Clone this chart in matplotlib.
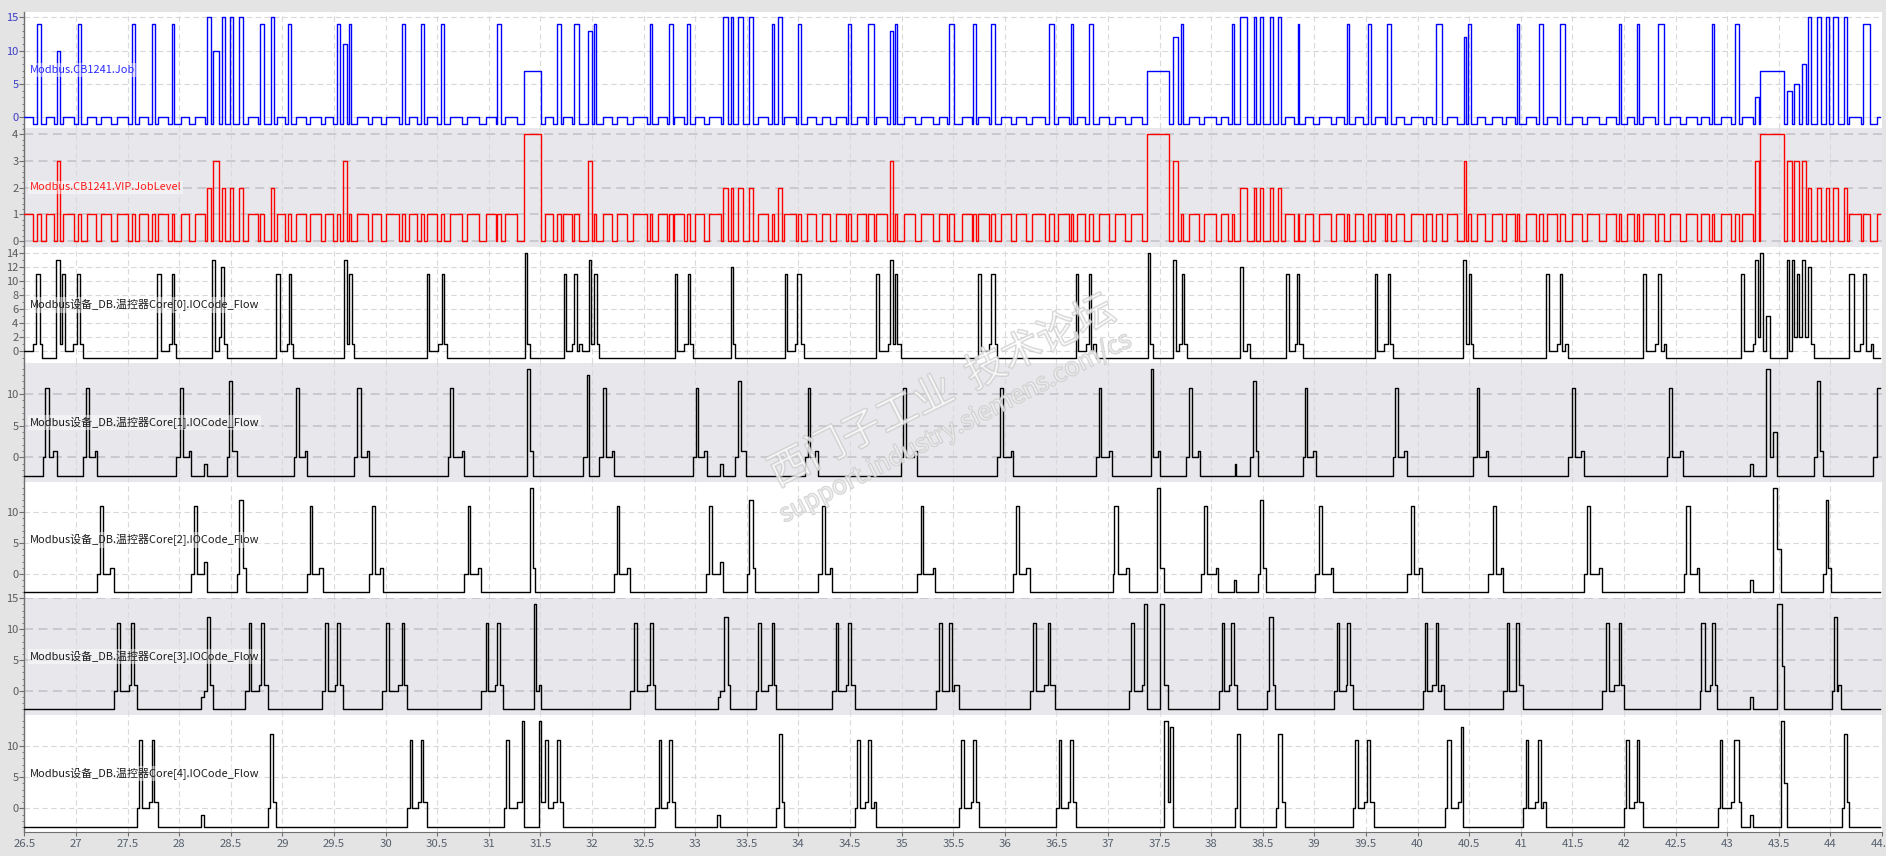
import matplotlib
matplotlib.use('Agg')
import matplotlib.pyplot as plt
from matplotlib.ticker import MultipleLocator, FuncFormatter
from matplotlib import patheffects as pe

plt.rcParams['font.family'] = ['Noto Sans CJK SC', 'DejaVu Sans']

# ---------------- data ----------------
X_START, X_END = 26.5, 44.48

job_times = [
    26.5, 26.587, 26.619, 26.658, 26.706, 26.787, 26.813, 26.848, 26.874, 26.977,
    27.016, 27.048, 27.103, 27.191, 27.239, 27.336, 27.401, 27.507, 27.539, 27.569,
    27.614, 27.701, 27.733, 27.762, 27.795, 27.891, 27.927, 27.953, 28.014, 28.098,
    28.150, 28.247, 28.273, 28.305, 28.324, 28.386, 28.411, 28.441, 28.489, 28.518,
    28.583, 28.621, 28.670, 28.767, 28.786, 28.825, 28.886, 28.915, 28.951, 29.025,
    29.058, 29.080, 29.129, 29.226, 29.267, 29.371, 29.413, 29.494, 29.526, 29.555,
    29.591, 29.623, 29.645, 29.668, 29.726, 29.826, 29.868, 29.955, 30.004, 30.130,
    30.156, 30.185, 30.230, 30.307, 30.340, 30.369, 30.398, 30.501, 30.540, 30.569,
    30.627, 30.744, 30.792, 30.902, 30.970, 31.066, 31.079, 31.115, 31.160, 31.276,
    31.344, 31.509, 31.548, 31.625, 31.658, 31.696, 31.722, 31.803, 31.829, 31.877,
    31.964, 31.997, 32.023, 32.042, 32.110, 32.191, 32.239, 32.339, 32.401, 32.530,
    32.565, 32.585, 32.643, 32.730, 32.749, 32.782, 32.795, 32.895, 32.924, 32.953,
    33.001, 33.088, 33.137, 33.247, 33.273, 33.321, 33.344, 33.370, 33.418, 33.466,
    33.521, 33.563, 33.612, 33.709, 33.741, 33.764, 33.806, 33.838, 33.864, 33.977,
    33.993, 34.028, 34.087, 34.167, 34.225, 34.306, 34.361, 34.458, 34.484, 34.510,
    34.565, 34.652, 34.678, 34.733, 34.752, 34.862, 34.886, 34.913, 34.937, 34.957,
    35.020, 35.131, 35.186, 35.305, 35.364, 35.443, 35.463, 35.511, 35.582, 35.681,
    35.696, 35.724, 35.744, 35.851, 35.870, 35.906, 35.961, 36.064, 36.112, 36.207,
    36.266, 36.385, 36.424, 36.472, 36.519, 36.622, 36.638, 36.661, 36.697, 36.776,
    36.812, 36.855, 36.915, 37.009, 37.065, 37.168, 37.227, 37.326, 37.381, 37.587,
    37.634, 37.682, 37.710, 37.729, 37.785, 37.880, 37.935, 38.050, 38.097, 38.160,
    38.200, 38.224, 38.283, 38.350, 38.410, 38.433, 38.473, 38.504, 38.568, 38.595,
    38.651, 38.678, 38.714, 38.805, 38.837, 38.853, 38.908, 38.991, 39.042, 39.165,
    39.208, 39.287, 39.319, 39.339, 39.390, 39.473, 39.517, 39.545, 39.588, 39.687,
    39.707, 39.738, 39.794, 39.873, 39.932, 40.051, 40.079, 40.142, 40.181, 40.233,
    40.288, 40.383, 40.446, 40.466, 40.490, 40.514, 40.573, 40.656, 40.723, 40.815,
    40.857, 40.944, 40.960, 40.986, 41.047, 41.144, 41.173, 41.218, 41.251, 41.354,
    41.383, 41.428, 41.493, 41.590, 41.645, 41.761, 41.822, 41.919, 41.955, 41.974,
    42.026, 42.100, 42.129, 42.149, 42.181, 42.300, 42.333, 42.391, 42.446, 42.543,
    42.604, 42.704, 42.749, 42.827, 42.856, 42.875, 42.937, 43.040, 43.076, 43.111,
    43.140, 43.253, 43.273, 43.305, 43.318, 43.554, 43.576, 43.625, 43.651, 43.699,
    43.728, 43.760, 43.786, 43.809, 43.873, 43.906, 43.957, 43.983, 44.028, 44.077,
    44.135, 44.164, 44.180, 44.297, 44.319, 44.384, 44.448,
]

job_values = [
    0, -1, 14, -1, 0, -1, 10, -1, 0, -1,
    14, -1, 0, -1, 0, -1, 0, -1, 14, -1,
    0, -1, 14, -1, 0, -1, 14, -1, 0, -1,
    0, -1, 15, -1, 10, -1, 15, -1, 15, -1,
    15, -1, 0, -1, 14, -1, 15, -1, 0, -1,
    14, -1, 0, -1, 0, -1, 0, -1, 14, -1,
    11, -1, 14, -1, 0, -1, 0, -1, 0, -1,
    14, -1, 0, -1, 14, -1, 0, -1, 14, -1,
    0, -1, 0, -1, 0, -1, 14, -1, 0, -1,
    7, -1, 0, -1, 14, -1, 0, -1, 14, -1,
    13, -1, 14, -1, 0, -1, 0, -1, 0, -1,
    14, -1, 0, -1, 14, -1, 0, -1, 14, -1,
    0, -1, 0, -1, 15, -1, 15, -1, 15, -1,
    15, -1, 0, -1, 14, -1, 15, -1, 0, -1,
    14, -1, 0, -1, 0, -1, 0, -1, 14, -1,
    0, -1, 14, -1, 0, -1, 13, -1, 14, -1,
    0, -1, 0, -1, 0, -1, 14, -1, 0, -1,
    14, -1, 0, -1, 14, -1, 0, -1, 0, -1,
    0, -1, 14, -1, 0, -1, 14, -1, 0, -1,
    14, -1, 0, -1, 0, -1, 0, -1, 7, -1,
    12, -1, 14, -1, 0, -1, 0, -1, 0, -1,
    14, -1, 15, -1, 15, -1, 15, -1, 15, -1,
    15, -1, 0, -1, 14, -1, 0, -1, 0, -1,
    0, -1, 14, -1, 0, -1, 14, -1, 0, -1,
    14, -1, 0, -1, 0, -1, 0, -1, 14, -1,
    0, -1, 12, -1, 14, -1, 0, -1, 0, -1,
    0, -1, 14, -1, 0, -1, 14, -1, 0, -1,
    14, -1, 0, -1, 0, -1, 0, -1, 14, -1,
    0, -1, 14, -1, 0, -1, 14, -1, 0, -1,
    0, -1, 0, -1, 14, -1, 0, -1, 14, -1,
    0, -1, 3, -1, 7, -1, 4, -1, 5, -1,
    8, -1, 15, -1, 15, -1, 15, -1, 15, -1,
    15, -1, 0, -1, 14, -1, 0,
]

job_level_values = [
    1, 0, 1, 0, 1, 0, 3, 0, 1, 0,
    1, 0, 1, 0, 1, 0, 1, 0, 1, 0,
    1, 0, 1, 0, 1, 0, 1, 0, 1, 0,
    1, 0, 2, 0, 3, 0, 2, 0, 2, 0,
    2, 0, 1, 0, 1, 0, 2, 0, 1, 0,
    1, 0, 1, 0, 1, 0, 1, 0, 1, 0,
    3, 0, 1, 0, 1, 0, 1, 0, 1, 0,
    1, 0, 1, 0, 1, 0, 1, 0, 1, 0,
    1, 0, 1, 0, 1, 0, 1, 0, 1, 0,
    4, 0, 1, 0, 1, 0, 1, 0, 1, 0,
    3, 0, 1, 0, 1, 0, 1, 0, 1, 0,
    1, 0, 1, 0, 1, 0, 1, 0, 1, 0,
    1, 0, 1, 0, 2, 0, 2, 0, 2, 0,
    2, 0, 1, 0, 1, 0, 2, 0, 1, 0,
    1, 0, 1, 0, 1, 0, 1, 0, 1, 0,
    1, 0, 1, 0, 1, 0, 3, 0, 1, 0,
    1, 0, 1, 0, 1, 0, 1, 0, 1, 0,
    1, 0, 1, 0, 1, 0, 1, 0, 1, 0,
    1, 0, 1, 0, 1, 0, 1, 0, 1, 0,
    1, 0, 1, 0, 1, 0, 1, 0, 4, 0,
    3, 0, 1, 0, 1, 0, 1, 0, 1, 0,
    1, 0, 2, 0, 2, 0, 2, 0, 2, 0,
    2, 0, 1, 0, 1, 0, 1, 0, 1, 0,
    1, 0, 1, 0, 1, 0, 1, 0, 1, 0,
    1, 0, 1, 0, 1, 0, 1, 0, 1, 0,
    1, 0, 3, 0, 1, 0, 1, 0, 1, 0,
    1, 0, 1, 0, 1, 0, 1, 0, 1, 0,
    1, 0, 1, 0, 1, 0, 1, 0, 1, 0,
    1, 0, 1, 0, 1, 0, 1, 0, 1, 0,
    1, 0, 1, 0, 1, 0, 1, 0, 1, 0,
    1, 0, 3, 0, 4, 0, 3, 0, 3, 0,
    3, 0, 2, 0, 2, 0, 2, 0, 2, 0,
    2, 0, 1, 0, 1, 0, 1,
]

core0_flow = [
    (26.5, 0), (26.587, 1), (26.609, 11), (26.651, 1), (26.674, -1), (26.806, 13), (26.845, 1), (26.864, 11), (26.893, 0), (26.974, 1),
    (27.006, 11), (27.039, 1), (27.071, -1), (27.788, 11), (27.827, 0), (27.901, 1), (27.927, 11), (27.953, 1), (27.972, -1), (28.321, 13),
    (28.347, 0), (28.386, 2), (28.405, 12), (28.434, 1), (28.460, -1), (28.941, 11), (28.977, 0), (29.041, 1), (29.061, 11), (29.083, 1),
    (29.106, -1), (29.594, 13), (29.623, 1), (29.645, 11), (29.671, 1), (29.694, -1), (30.398, 11), (30.424, 0), (30.505, 1), (30.543, 11),
    (30.569, 1), (30.598, -1), (31.348, 14), (31.373, 1), (31.399, -1), (31.725, 11), (31.751, 0), (31.803, 1), (31.829, 11), (31.851, 0),
    (31.877, 1), (31.906, 0), (31.968, 13), (31.993, 1), (32.019, 11), (32.045, 1), (32.071, -1), (32.801, 11), (32.827, 0), (32.895, 1),
    (32.927, 11), (32.953, 1), (32.975, -1), (33.344, 12), (33.369, 1), (33.389, -1), (33.867, 11), (33.893, 0), (33.970, 1), (33.990, 11),
    (34.022, 1), (34.057, -1), (34.755, 11), (34.781, 0), (34.865, 1), (34.891, 13), (34.913, 1), (34.939, 11), (34.959, 1), (34.991, -1),
    (35.743, 11), (35.769, 0), (35.850, 1), (35.870, 11), (35.908, 1), (35.928, -1), (36.690, 11), (36.713, 0), (36.787, 1), (36.813, 11),
    (36.839, 0), (36.858, 1), (36.884, -1), (37.384, 14), (37.410, 1), (37.439, -1), (37.633, 13), (37.662, 0), (37.685, 1), (37.714, 11),
    (37.733, 1), (37.762, -1), (38.282, 12), (38.311, 0), (38.350, 1), (38.379, -1), (38.722, 11), (38.751, 0), (38.809, 1), (38.835, 11),
    (38.854, 1), (38.886, -1), (39.587, 11), (39.603, 0), (39.678, 1), (39.710, 11), (39.736, 1), (39.758, -1), (40.443, 13), (40.469, 1),
    (40.495, 11), (40.514, 1), (40.540, -1), (41.247, 11), (41.270, 0), (41.354, 1), (41.383, 11), (41.402, 0), (41.428, 1), (41.461, -1),
    (42.181, 11), (42.213, 0), (42.300, 1), (42.333, 11), (42.362, 0), (42.388, 1), (42.407, -1), (43.137, 11), (43.166, 0), (43.247, 1),
    (43.273, 13), (43.295, 2), (43.321, 14), (43.350, 0), (43.376, 5), (43.415, -1), (43.576, 13), (43.602, 0), (43.625, 13), (43.647, 2),
    (43.673, 11), (43.696, 2), (43.728, 13), (43.757, 2), (43.786, 12), (43.809, 1), (43.841, -1), (44.183, 11), (44.225, 0), (44.290, 1),
    (44.319, 11), (44.348, 0), (44.390, 1), (44.416, -1),
]

core1_flow = [
    (26.5, -3), (26.677, 0), (26.703, 11), (26.735, 0), (26.780, 1), (26.813, -3), (27.071, 0), (27.097, 11), (27.123, 0), (27.187, 1),
    (27.207, -3), (27.972, 0), (28.011, 11), (28.037, 0), (28.092, 1), (28.118, -3), (28.244, -1), (28.273, -3), (28.460, 0), (28.486, 12),
    (28.515, 1), (28.557, -3), (29.112, 0), (29.132, 11), (29.158, 0), (29.216, 1), (29.242, -3), (29.694, 0), (29.726, 11), (29.765, 0),
    (29.820, 1), (29.842, -3), (30.601, 0), (30.627, 11), (30.656, 0), (30.743, 1), (30.763, -3), (31.373, 14), (31.399, 1), (31.431, -3),
    (31.910, 0), (31.948, 13), (31.968, -3), (32.071, 0), (32.110, 11), (32.139, 0), (32.191, 1), (32.216, -3), (32.975, 0), (33.004, 11),
    (33.024, 0), (33.088, 1), (33.111, -3), (33.243, -1), (33.269, -3), (33.389, 0), (33.418, 12), (33.444, 1), (33.496, -3), (34.061, 0),
    (34.090, 11), (34.116, 0), (34.161, 1), (34.193, -3), (34.991, 0), (35.017, 11), (35.043, 0), (35.120, 1), (35.149, -3), (35.928, 0),
    (35.957, 11), (35.982, 0), (36.057, 1), (36.083, -3), (36.887, 0), (36.910, 11), (36.935, 0), (37.013, 1), (37.042, -3), (37.413, 14),
    (37.439, 0), (37.481, 1), (37.507, -3), (37.756, 0), (37.782, 11), (37.814, 0), (37.872, 1), (37.895, -3), (38.227, -1), (38.244, -3),
    (38.379, 0), (38.408, 12), (38.431, 1), (38.457, -3), (38.886, 0), (38.906, 11), (38.932, 0), (38.990, 1), (39.019, -3), (39.758, 0),
    (39.781, 11), (39.807, 0), (39.871, 1), (39.901, -3), (40.540, 0), (40.572, 11), (40.598, 0), (40.660, 1), (40.685, -3), (41.461, 0),
    (41.493, 11), (41.528, 0), (41.583, 1), (41.616, -3), (42.413, 0), (42.439, 11), (42.462, 0), (42.543, 1), (42.575, -3), (43.221, -1),
    (43.250, -3), (43.376, 14), (43.415, 0), (43.441, 4), (43.486, -3), (43.844, 0), (43.870, 12), (43.902, 1), (43.932, -3), (44.416, 0),
    (44.448, 11),
]

core2_flow = [
    (26.5, -3), (27.207, 0), (27.233, 11), (27.258, 0), (27.330, 1), (27.365, -3), (28.118, 0), (28.147, 11), (28.176, 0), (28.240, 2),
    (28.273, -3), (28.557, 0), (28.583, 12), (28.621, 1), (28.644, -3), (29.242, 0), (29.264, 11), (29.290, 0), (29.358, 1), (29.390, -3),
    (29.842, 0), (29.871, 11), (29.897, 0), (29.946, 1), (29.972, -3), (30.763, 0), (30.795, 11), (30.815, 0), (30.898, 1), (30.928, -3),
    (31.402, 14), (31.431, 1), (31.451, -3), (32.216, 0), (32.239, 11), (32.265, 0), (32.342, 1), (32.368, -3), (33.108, 0), (33.137, 11),
    (33.163, 0), (33.243, 2), (33.269, -3), (33.499, 0), (33.525, 12), (33.560, 1), (33.583, -3), (34.193, 0), (34.225, 11), (34.258, 0),
    (34.306, 1), (34.329, -3), (35.152, 0), (35.185, 11), (35.211, 0), (35.308, 1), (35.327, -3), (36.083, 0), (36.109, 11), (36.134, 0),
    (36.205, 1), (36.244, -3), (37.045, 0), (37.061, 11), (37.094, 0), (37.174, 1), (37.200, -3), (37.478, 14), (37.507, 1), (37.546, -3),
    (37.898, 0), (37.933, 11), (37.963, 0), (38.050, 1), (38.069, -3), (38.224, -1), (38.244, -3), (38.457, 0), (38.476, 12), (38.505, 1),
    (38.534, -3), (39.009, 0), (39.041, 11), (39.070, 0), (39.161, 1), (39.183, -3), (39.901, 0), (39.933, 11), (39.965, 0), (40.017, 1),
    (40.046, -3), (40.685, 0), (40.727, 11), (40.760, 0), (40.811, 1), (40.831, -3), (41.616, 0), (41.645, 11), (41.670, 0), (41.758, 1),
    (41.790, -3), (42.578, 0), (42.604, 11), (42.643, 0), (42.704, 1), (42.730, -3), (43.221, -1), (43.250, -3), (43.447, 14), (43.486, 4),
    (43.525, -3), (43.932, 0), (43.957, 12), (43.980, 1), (44.006, -3),
]

core3_flow = [
    (26.5, -3), (27.365, 0), (27.401, 11), (27.430, 0), (27.510, 1), (27.533, 11), (27.565, 1), (27.588, -3), (28.215, -1), (28.240, 0),
    (28.266, 12), (28.299, 1), (28.324, -3), (28.641, 0), (28.673, 11), (28.693, 0), (28.777, 1), (28.789, 11), (28.825, 1), (28.857, -3),
    (29.387, 0), (29.416, 11), (29.439, 0), (29.507, 1), (29.532, 11), (29.558, 1), (29.591, -3), (29.968, 0), (30.001, 11), (30.033, 0),
    (30.123, 1), (30.156, 11), (30.181, 1), (30.211, -3), (30.928, 0), (30.970, 11), (30.992, 0), (31.063, 1), (31.083, 11), (31.112, 1),
    (31.141, -3), (31.435, 14), (31.454, 0), (31.483, 1), (31.506, -3), (32.371, 0), (32.404, 11), (32.433, 0), (32.530, 1), (32.565, 11),
    (32.588, 1), (32.614, -3), (33.218, -1), (33.243, 0), (33.276, 12), (33.315, 1), (33.340, -3), (33.586, 0), (33.612, 11), (33.637, 0),
    (33.709, 1), (33.741, 11), (33.760, 1), (33.786, -3), (34.329, 0), (34.361, 11), (34.387, 0), (34.461, 1), (34.484, 11), (34.506, 1),
    (34.545, -3), (35.330, 0), (35.362, 11), (35.388, 0), (35.459, 11), (35.488, 0), (35.511, 1), (35.553, -3), (36.244, 0), (36.273, 11),
    (36.299, 0), (36.383, 1), (36.415, 11), (36.441, 1), (36.490, -3), (37.200, 0), (37.226, 11), (37.252, 0), (37.326, 1), (37.349, 14),
    (37.381, -3), (37.504, 14), (37.546, 1), (37.585, -3), (38.072, 0), (38.105, 11), (38.121, 0), (38.176, 1), (38.195, 11), (38.224, 1),
    (38.247, -3), (38.538, 0), (38.563, 12), (38.596, 1), (38.621, -3), (39.187, 0), (39.216, 11), (39.242, 0), (39.303, 1), (39.319, 11),
    (39.345, 1), (39.371, -3), (40.049, 0), (40.069, 11), (40.091, 0), (40.143, 1), (40.178, 11), (40.201, 0), (40.224, 1), (40.259, -3),
    (40.831, 0), (40.863, 11), (40.889, 0), (40.953, 11), (40.986, 1), (41.025, -3), (41.790, 0), (41.822, 11), (41.851, 0), (41.906, 1),
    (41.952, 11), (41.974, 1), (42.003, -3), (42.733, 0), (42.749, 11), (42.782, 0), (42.830, 1), (42.856, 11), (42.882, 1), (42.904, -3),
    (43.221, -1), (43.250, -3), (43.486, 14), (43.528, 4), (43.554, -3), (44.012, 0), (44.032, 12), (44.061, 0), (44.077, 1), (44.099, -3),
]

core4_flow = [
    (26.5, -3), (27.588, 0), (27.614, 11), (27.643, 0), (27.704, 1), (27.733, 11), (27.759, 1), (27.791, -3), (28.215, -1), (28.240, -3),
    (28.857, 0), (28.880, 12), (28.912, 1), (28.938, -3), (30.211, 0), (30.236, 11), (30.259, 0), (30.311, 1), (30.340, 11), (30.366, 1),
    (30.398, -3), (31.150, 0), (31.167, 11), (31.196, 0), (31.273, 1), (31.318, 14), (31.344, -3), (31.483, 14), (31.509, 1), (31.548, 11),
    (31.574, 0), (31.619, 1), (31.658, 11), (31.690, 1), (31.722, -3), (32.614, 0), (32.646, 11), (32.669, 0), (32.723, 1), (32.749, 11),
    (32.778, 1), (32.801, -3), (33.214, -1), (33.243, -3), (33.786, 0), (33.809, 12), (33.838, 1), (33.864, -3), (34.545, 0), (34.571, 11),
    (34.600, 0), (34.649, 1), (34.671, 11), (34.707, 0), (34.736, 1), (34.755, -3), (35.556, 0), (35.579, 11), (35.608, 0), (35.672, 1),
    (35.695, 11), (35.724, 1), (35.747, -3), (36.496, 0), (36.522, 11), (36.548, 0), (36.612, 1), (36.635, 11), (36.664, 1), (36.690, -3),
    (37.546, 14), (37.585, 1), (37.604, 13), (37.633, -3), (38.227, 0), (38.247, 12), (38.282, -3), (38.625, 0), (38.651, 12), (38.683, 1),
    (38.719, -3), (39.371, 0), (39.390, 11), (39.419, 0), (39.477, 1), (39.513, 11), (39.539, 1), (39.581, -3), (40.262, 0), (40.285, 11),
    (40.320, 0), (40.395, 1), (40.417, 13), (40.443, -3), (41.025, 0), (41.047, 11), (41.073, 0), (41.141, 1), (41.170, 11), (41.192, 0),
    (41.218, 1), (41.247, -3), (42.003, 0), (42.023, 11), (42.048, 0), (42.097, 1), (42.126, 11), (42.149, 1), (42.181, -3), (42.907, 0),
    (42.933, 11), (42.953, 0), (43.040, 1), (43.069, 11), (43.111, 1), (43.134, -3), (43.221, -1), (43.250, -3), (43.521, 14), (43.554, 4),
    (43.576, -3), (44.109, 0), (44.135, 12), (44.164, 1), (44.183, -3),
]

labels = [
    'Modbus.CB1241.Job',
    'Modbus.CB1241.VIP.JobLevel',
    'Modbus设备_DB.温控器Core[0].IOCode_Flow',
    'Modbus设备_DB.温控器Core[1].IOCode_Flow',
    'Modbus设备_DB.温控器Core[2].IOCode_Flow',
    'Modbus设备_DB.温控器Core[3].IOCode_Flow',
    'Modbus设备_DB.温控器Core[4].IOCode_Flow',
]

# ---------------- layout ----------------
W, H = 1886, 856
fig = plt.figure(figsize=(W / 100, H / 100), dpi=100)
fig.patch.set_facecolor('#e4e4e4')

PANEL_PX = [(12, 128), (128, 247), (247, 363), (363, 482), (482, 598), (598, 715), (715, 832)]
LEFT_PX, RIGHT_PX = 24.4, 1882
WHITE, GREY = '#ffffff', '#e8e8ec'

series = [
    (job_times, job_values),
    (job_times, job_level_values),
    tuple(map(list, zip(*core0_flow))),
    tuple(map(list, zip(*core1_flow))),
    tuple(map(list, zip(*core2_flow))),
    tuple(map(list, zip(*core3_flow))),
    tuple(map(list, zip(*core4_flow))),
]

styles = [
    dict(color='#0000ff', ylim=(-1.6, 15.8), major=5, minor=1, lab='#2a2aff', tick='#3c3cc8', face=WHITE),
    dict(color='#ff0000', ylim=(-0.225, 4.24), major=1, minor=0.2, lab='#ff1a1a', tick='#5a5a5a', face=GREY),
    dict(color='#000000', ylim=(-1.71, 14.8), major=2, minor=1, lab='#1a1a1a', tick='#5a5a5a', face=WHITE),
    dict(color='#000000', ylim=(-3.9, 14.9), major=5, minor=1, lab='#1a1a1a', tick='#5a5a5a', face=GREY),
    dict(color='#000000', ylim=(-3.9, 14.9), major=5, minor=1, lab='#1a1a1a', tick='#5a5a5a', face=WHITE),
    dict(color='#000000', ylim=(-3.9, 15.05), major=5, minor=1, lab='#1a1a1a', tick='#5a5a5a', face=GREY),
    dict(color='#000000', ylim=(-3.8, 14.98), major=5, minor=1, lab='#1a1a1a', tick='#5a5a5a', face=WHITE),
]

axes = []
for i, ((t, v), st) in enumerate(zip(series, styles)):
    top, bot = PANEL_PX[i]
    ax = fig.add_axes([LEFT_PX / W, 1 - bot / H, (RIGHT_PX - LEFT_PX) / W, (bot - top) / H])
    ax.set_facecolor(st['face'])
    tt = list(t) + [X_END]
    vv = list(v) + [v[-1]]
    ax.step(tt, vv, where='post', color=st['color'], lw=1.0, zorder=3)
    ax.set_xlim(26.5, 44.5)
    ax.set_ylim(*st['ylim'])
    ax.xaxis.set_major_locator(MultipleLocator(0.5))
    ax.yaxis.set_major_locator(MultipleLocator(st['major']))
    ax.yaxis.set_minor_locator(MultipleLocator(st['minor']))
    ax.set_axisbelow(True)
    ax.grid(True, axis='x', which='major', color='#dadada', lw=0.8, ls=(0, (5, 3)))
    gcol = '#d8d8d8' if st['face'] == WHITE else '#c6c6cc'
    glw = 0.8 if st['face'] == WHITE else 1.3
    ax.grid(True, axis='y', which='major', color=gcol, lw=glw, ls=(0, (5, 3)))
    for s in ('top', 'right', 'bottom'):
        ax.spines[s].set_visible(False)
    ax.spines['left'].set_color('#707070')
    ax.spines['left'].set_linewidth(1.0)
    ax.tick_params(axis='y', which='major', direction='out', length=3.3, width=0.8,
                   color='#707070', labelsize=8, labelcolor=st['tick'], pad=1.0)
    ax.tick_params(axis='y', which='minor', direction='out', length=1.8, width=0.7, color='#808080')
    ax.tick_params(axis='x', which='both', length=0, labelbottom=False)
    ax.text(0.0028, 0.5, labels[i], transform=ax.transAxes, ha='left', va='center',
            fontsize=7.9, color=st['lab'], zorder=5,
            bbox=dict(facecolor='white', alpha=0.45, edgecolor='none', pad=1.2))
    axes.append(ax)

# bottom axis
axb = axes[-1]
axb.spines['bottom'].set_visible(True)
axb.spines['bottom'].set_color('#707070')
axb.tick_params(axis='x', which='major', direction='out', length=3, width=0.8, color='#707070',
                labelbottom=True, labelsize=8.2, labelcolor='#56606e', pad=2)
axb.xaxis.set_major_formatter(FuncFormatter(lambda x, _: f'{x:g}'))

# watermark
wm_fx = [pe.Stroke(linewidth=1.2, foreground='#c4c4c4', alpha=0.7), pe.Normal()]
fig.text(942 / W, 1 - 392 / H, '西门子工业  技术论坛', rotation=26.5, ha='center', va='center',
         fontsize=29, color='white', alpha=0.3, path_effects=wm_fx, zorder=10)
fig.text(955 / W, 1 - 428 / H, 'support.industry.siemens.com/cs', rotation=27, ha='center',
         va='center', fontsize=18, color='white', alpha=0.3, path_effects=wm_fx, zorder=10)

fig.savefig('out.png', dpi=100, facecolor=fig.get_facecolor())
